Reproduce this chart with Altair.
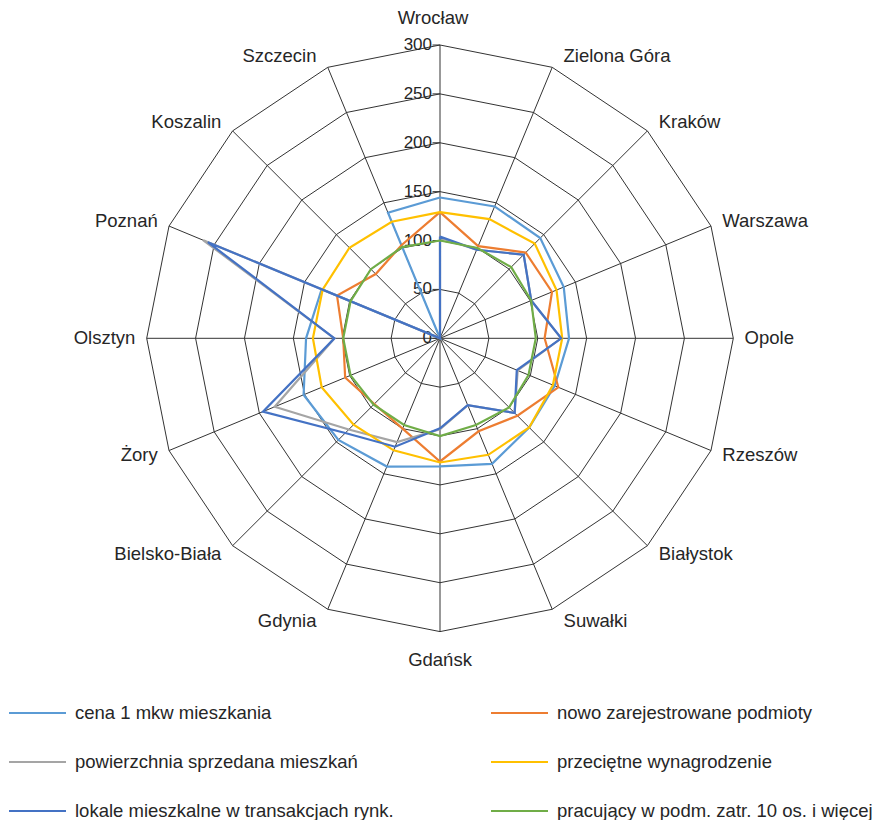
import altair as alt
import pandas as pd

# ---------------- data ----------------
cities = ["Wrocław", "Zielona Góra", "Kraków", "Warszawa", "Opole", "Rzeszów",
          "Białystok", "Suwałki", "Gdańsk", "Gdynia", "Bielsko-Biała", "Żory",
          "Olsztyn", "Poznań", "Koszalin", "Szczecin"]

series_names = ["cena 1 mkw mieszkania",
                "nowo zarejestrowane podmioty",
                "powierzchnia sprzedana mieszkań",
                "przeciętne wynagrodzenie",
                "lokale mieszkalne w transakcjach rynk.",
                "pracujący w podm. zatr. 10 os. i więcej"]

cena = [144, 146, 145, 137, 132, 127, 129, 139, 131, 142, 147, 151, 137, 131, 0, 139]
nowo = [129, 102, 124, 124, 107, 131, 112, 103, 126, 100, 95, 105, 99, 114, 93, 103]
powierzchnia = [103, 98, 121, 101, 124, 86, 108, 74, 93, 115, 132, 183, 108, 262, 0, 0]
wynagrodzenie = [129, 132, 137, 129, 125, 125, 129, 129, 127, 124, 125, 131, 130, 130, 131, 129]
lokale = [104, 98, 121, 101, 124, 85, 108, 74, 92, 120, 137, 196, 108, 257, 0, 0]
pracujacy = [100, 100, 103, 101, 98, 98, 100, 96, 100, 96, 96, 99, 99, 99, 100, 101]

series_values = [cena, nowo, powierzchnia, wynagrodzenie, lokale, pracujacy]
colors = ["#5B9BD5", "#ED7D31", "#A5A5A5", "#FFC000", "#4472C4", "#70AD47"]

# legend reading order (Vega fills legend columns first)
legend_order = [0, 2, 4, 1, 3, 5]

tick_values = [0, 50, 100, 150, 200, 250, 300]
RMAX = 300

# ---------------- layout (pixels) ----------------
W, H = 879, 820
CX, CY = 440.0, 338.3
RPX = 293.3
S = RPX / RMAX                     # px per unit
XDOM = [-CX / S, (W - CX) / S]
YDOM = [-(H - CY) / S, CY / S]
N = len(cities)
GRID = "#333333"
TXT = "#262626"
FONT = "Liberation Sans"

xs = alt.Scale(domain=XDOM, nice=False, zero=False)
ys = alt.Scale(domain=YDOM, nice=False, zero=False)

def X(f="x"):
    return alt.X(f"{f}:Q", scale=xs, axis=None)

def Y(f="y"):
    return alt.Y(f"{f}:Q", scale=ys, axis=None)

ANG = f"datum.k * 2 * PI / {N}"

# grid polygons
grid_rows = [{"level": lv, "k": k} for lv in tick_values[1:] for k in range(N + 1)]
grid = alt.Chart(pd.DataFrame(grid_rows)).transform_calculate(
    a=ANG
).transform_calculate(
    x="datum.level * sin(datum.a)", y="datum.level * cos(datum.a)"
).mark_line(color=GRID, strokeWidth=1).encode(
    x=X(), y=Y(), detail="level:N", order="k:Q")

# spokes
spoke_rows = [{"k": k, "r": r} for k in range(N) for r in (0, RMAX)]
spokes = alt.Chart(pd.DataFrame(spoke_rows)).transform_calculate(
    a=ANG
).transform_calculate(
    x="datum.r * sin(datum.a)", y="datum.r * cos(datum.a)"
).mark_line(color=GRID, strokeWidth=1).encode(
    x=X(), y=Y(), detail="k:N", order="r:Q")

# value-axis tick marks and labels
ticks_df = pd.DataFrame({"level": tick_values})
tickmarks = alt.Chart(ticks_df).transform_calculate(
    x1=f"{-7.5 / S}", x2="0"
).mark_rule(color=GRID, strokeWidth=1).encode(
    x=X("x1"), x2="x2:Q", y=Y("level"))
ticklabels = alt.Chart(ticks_df).transform_calculate(
    x="0", lab="format(datum.level, 'd')"
).mark_text(align="right", baseline="middle", dx=-8, font=FONT,
            fontSize=17, color=TXT).encode(
    x=X(), y=Y("level"), text="lab:N")

# series
cscale = alt.Scale(domain=[series_names[i] for i in legend_order],
                   range=[colors[i] for i in legend_order])
legend = alt.Legend(orient="none", legendX=8, legendY=703, columns=2,
                    title=None, symbolType="stroke", symbolSize=57 * 57,
                    symbolStrokeWidth=2, labelFont=FONT, labelFontSize=18.5,
                    labelColor=TXT, clipHeight=20, rowPadding=29,
                    columnPadding=96, labelOffset=8, symbolOffset=0,
                    padding=0, labelLimit=600)

series_layers = []
for name, vals in zip(series_names, series_values):
    rows = [{"series": name, "k": k, "value": vals[k % N]} for k in range(N + 1)]
    layer = alt.Chart(pd.DataFrame(rows)).transform_calculate(
        a=ANG
    ).transform_calculate(
        x="datum.value * sin(datum.a)", y="datum.value * cos(datum.a)"
    ).mark_line(strokeWidth=2.2).encode(
        x=X(), y=Y(), order="k:Q",
        color=alt.Color("series:N", scale=cscale, legend=legend))
    series_layers.append(layer)

# category labels
cat_df = pd.DataFrame({"city": cities, "k": list(range(N))})
GAPX = 11.3 / S
GAPY = 12.3 / S

def cat_layer(filter_expr, align, xexpr, yexpr, dx=0):
    return alt.Chart(cat_df).transform_filter(filter_expr).transform_calculate(
        a=ANG
    ).transform_calculate(
        x=xexpr, y=yexpr
    ).mark_text(align=align, baseline="middle", font=FONT, fontSize=18.5,
                color=TXT, dx=dx).encode(x=X(), y=Y(), text="city:N")

right = cat_layer(f"datum.k > 0 && datum.k < {N // 2}", "left",
                  f"{RMAX} * sin(datum.a) + {GAPX}",
                  f"({RMAX} + {GAPY}) * cos(datum.a)")
left = cat_layer(f"datum.k > {N // 2}", "right",
                 f"{RMAX} * sin(datum.a) - {GAPX}",
                 f"({RMAX} + {GAPY}) * cos(datum.a)")
top = cat_layer("datum.k == 0", "center", "0", f"{RMAX + 27 / S}", dx=-7)
bottom = cat_layer(f"datum.k == {N // 2}", "center", "0", f"{-(RMAX + 28.5 / S)}")

chart = alt.layer(grid, spokes, tickmarks, ticklabels, *series_layers,
                  right, left, top, bottom).properties(
    width=W, height=H, padding=0,
    autosize=alt.AutoSizeParams(type="none"),
    background="white"
).configure_view(stroke=None)

chart.save("out.html", embed_options={"renderer": "svg", "actions": False})
